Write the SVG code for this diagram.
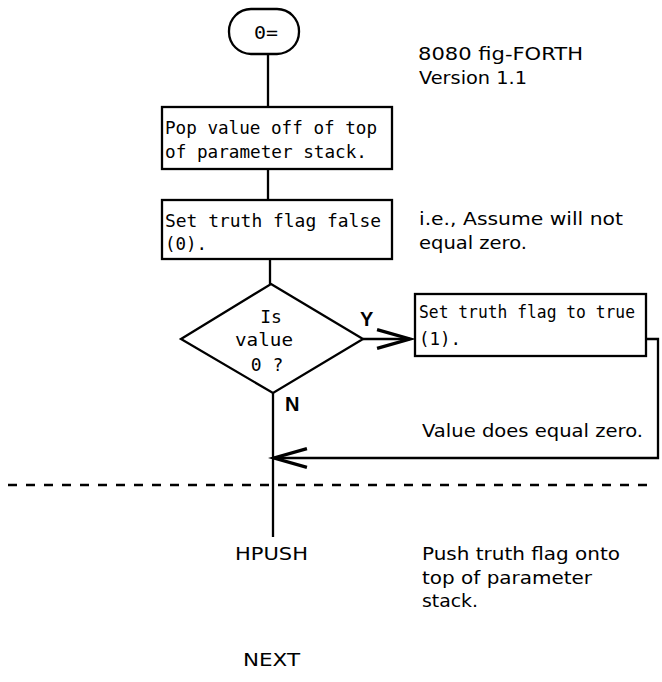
<svg xmlns="http://www.w3.org/2000/svg" width="662" height="682" viewBox="0 0 662 682">
<style>
.box{fill:#fff;stroke:#000;stroke-width:2.3}
.ln{fill:none;stroke:#000;stroke-width:2.3}
.mono{font-family:"DejaVu Sans Mono","Liberation Mono",monospace;font-size:18px;fill:#000}
.sans{font-family:"DejaVu Sans","Liberation Sans",sans-serif;font-size:18.5px;fill:#000}
.lbl{font-family:"Liberation Sans",Arial,sans-serif;font-size:20px;font-weight:bold;fill:#000}
</style>
<defs>
<marker id="ah" markerUnits="userSpaceOnUse" markerWidth="40" markerHeight="30" refX="0" refY="0" viewBox="-30 -12 34 24" orient="auto" overflow="visible">
<path d="M-28,-8 L0,0 L-28,8" fill="none" stroke="#000" stroke-width="2.8"/>
</marker>
</defs>
<rect width="662" height="682" fill="#fff"/>
<g id="connectors">
<path class="ln" d="M268,54 V107"/>
<path class="ln" d="M268,169 V200"/>
<path class="ln" d="M270,259 V284"/>
<path class="ln" d="M363,339 H410" marker-end="url(#ah)"/>
<path class="ln" d="M646,339 H658 V458 H274" marker-end="url(#ah)"/>
<path class="ln" d="M273,393 V537"/>
<path d="M8,485 H655" fill="none" stroke="#000" stroke-width="2.3" stroke-dasharray="9 9"/>
<text class="lbl" x="360" y="326">Y</text>
<text class="lbl" x="285" y="411">N</text>
</g>
<g id="start">
<rect class="box" x="229" y="9" width="70" height="45" rx="22" ry="22"/>
<text class="mono" x="266" y="39" text-anchor="middle" textLength="24" lengthAdjust="spacingAndGlyphs">0=</text>
</g>
<g id="pop">
<rect class="box" x="162" y="107" width="230" height="62"/>
<text class="mono" x="165" y="134" textLength="212" lengthAdjust="spacingAndGlyphs">Pop value off of top</text>
<text class="mono" x="165" y="158" textLength="202" lengthAdjust="spacingAndGlyphs">of parameter stack.</text>
</g>
<g id="setfalse">
<rect class="box" x="162" y="200" width="230" height="59"/>
<text class="mono" x="165" y="227" textLength="216" lengthAdjust="spacingAndGlyphs">Set truth flag false</text>
<text class="mono" x="165" y="250" textLength="42" lengthAdjust="spacingAndGlyphs">(0).</text>
</g>
<g id="decision">
<polygon class="box" points="271,284 363,339 273,393 181,339"/>
<text class="mono" x="271" y="323" text-anchor="middle">Is</text>
<text class="mono" x="264" y="346" text-anchor="middle" textLength="58" lengthAdjust="spacingAndGlyphs">value</text>
<text class="mono" x="267" y="371" text-anchor="middle">0 ?</text>
</g>
<g id="settrue">
<rect class="box" x="415" y="294" width="231" height="62"/>
<text class="mono" x="419" y="318" style="font-size:17px" textLength="216" lengthAdjust="spacingAndGlyphs">Set truth flag to true</text>
<text class="mono" x="419" y="345" textLength="42" lengthAdjust="spacingAndGlyphs">(1).</text>
</g>
<g id="notes">
<text class="sans" x="418" y="60" textLength="165" lengthAdjust="spacingAndGlyphs">8080 fig-FORTH</text>
<text class="sans" x="419" y="84" textLength="108" lengthAdjust="spacingAndGlyphs">Version 1.1</text>
<text class="sans" x="419" y="225" textLength="204" lengthAdjust="spacingAndGlyphs">i.e., Assume will not</text>
<text class="sans" x="419" y="249" textLength="108" lengthAdjust="spacingAndGlyphs">equal zero.</text>
<text class="sans" x="422" y="437" textLength="221" lengthAdjust="spacingAndGlyphs">Value does equal zero.</text>
<text class="sans" x="422" y="560" textLength="198" lengthAdjust="spacingAndGlyphs">Push truth flag onto</text>
<text class="sans" x="422" y="584" textLength="170" lengthAdjust="spacingAndGlyphs">top of parameter</text>
<text class="sans" x="422" y="607" textLength="56" lengthAdjust="spacingAndGlyphs">stack.</text>
</g>
<g id="hpush">
<text class="sans" x="235" y="560" textLength="73" lengthAdjust="spacingAndGlyphs">HPUSH</text>
</g>
<g id="next">
<text class="sans" x="243" y="666" textLength="57" lengthAdjust="spacingAndGlyphs">NEXT</text>
</g>
</svg>
